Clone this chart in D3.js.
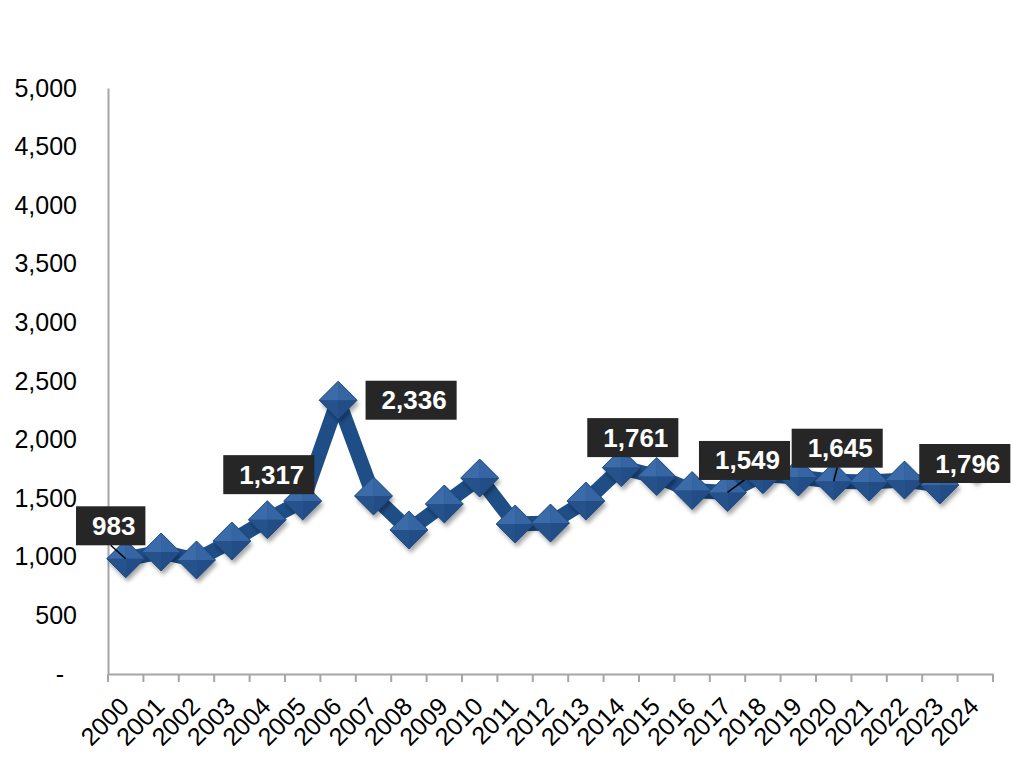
<!DOCTYPE html>
<html>
<head>
<meta charset="utf-8">
<script src="https://cdn.jsdelivr.net/npm/d3@7"></script>
<style>
  html, body { margin: 0; padding: 0; background: #ffffff; }
  svg { display: block; }
</style>
</head>
<body>
<div id="chart"></div>
<script>
// ---- data ----
const years = ["2000","2001","2002","2003","2004","2005","2006","2007","2008","2009","2010","2011","2012","2013","2014","2015","2016","2017","2018","2019","2020","2021","2022","2023","2024"];
const values = [983, 1041, 973, 1135, 1317, 1476, 2336, 1519, 1229, 1451, 1672, 1280, 1288, 1476, 1761, 1685, 1565, 1549, 1700, 1680, 1645, 1638, 1655, 1613, 1796];
const yTicks = [0, 500, 1000, 1500, 2000, 2500, 3000, 3500, 4000, 4500, 5000];
const labelYears = ["2000", "2004", "2006", "2014", "2017", "2020", "2024"];

// ---- label placement (style, not data) ----
const labelPlacement = {
  "2000": {dx: -15, dy: -33, leader: true},
  "2004": {dx: 1.5, dy: -45, leader: false},
  "2006": {dx: 73, dy: 0, leader: false},
  "2014": {dx: 11.5, dy: -30, leader: false},
  "2017": {dx: 17, dy: -32, leader: true},
  "2020": {dx: 3.5, dy: -33, leader: true},
  "2024": {dx: -10.5, dy: 0, leader: false}
};

const W = 1011, H = 784;
const margin = {left: 108, right: 18, top: 88, bottom: 110};
const x0 = margin.left, x1 = W - margin.right; // 108 .. 993
const yTop = margin.top, yBot = H - margin.bottom; // 88 .. 674

const svg = d3.select("#chart").append("svg")
  .attr("width", W).attr("height", H)
  .style("font-family", "'Liberation Sans', Arial, sans-serif");

svg.append("rect").attr("width", W).attr("height", H).attr("fill", "#ffffff");

const defs = svg.append("defs");
const f = defs.append("filter").attr("id", "shadow")
  .attr("x", "-50%").attr("y", "-50%").attr("width", "200%").attr("height", "200%");
f.append("feDropShadow").attr("dx", 2).attr("dy", 4).attr("stdDeviation", 2.2)
  .attr("flood-color", "#000").attr("flood-opacity", 0.35);

const x = d3.scaleBand().domain(years).range([x0, x1]).paddingInner(0).paddingOuter(0);
const y = d3.scaleLinear().domain([0, 5000]).range([yBot, yTop]);
const cx = d => x(d) + x.bandwidth() / 2;

// y axis
const fmt = d3.format(",");
const yAxis = d3.axisLeft(y).tickValues(yTicks).tickSize(0).tickPadding(31)
  .tickFormat(d => d === 0 ? "-" : fmt(d));
const gy = svg.append("g").attr("transform", `translate(${x0},0)`).call(yAxis);
gy.select(".domain").attr("stroke", "#a6a6a6").attr("stroke-width", 2);
gy.selectAll("text").attr("font-size", 25).attr("fill", "#000")
  .attr("font-family", "'Liberation Sans', Arial, sans-serif");
gy.selectAll(".tick").filter(d => d === 0).select("text").attr("dx", -13);

// x axis
const gx = svg.append("g").attr("transform", `translate(0,${yBot})`)
  .call(d3.axisBottom(x).tickSize(0).tickFormat(""));
gx.select(".domain").attr("stroke", "#a6a6a6").attr("stroke-width", 2);
gx.selectAll(".tick").remove();
// boundary tick marks
const boundaries = years.map(d => x(d)).concat([x1]);
gx.selectAll("line.bt").data(boundaries).enter().append("line")
  .attr("class", "bt")
  .attr("x1", d => d).attr("x2", d => d)
  .attr("y1", 0).attr("y2", 8)
  .attr("stroke", "#a6a6a6").attr("stroke-width", 2);

// x labels
svg.append("g").selectAll("text").data(years).enter().append("text")
  .attr("transform", d => `translate(${cx(d) + 5},${yBot + 34}) rotate(-45)`)
  .attr("text-anchor", "end")
  .attr("font-size", 25)
  .attr("fill", "#000")
  .text(d => d);

// line
const pts = years.map((yr, i) => ({yr, v: values[i]}));
const line = d3.line().x(d => cx(d.yr)).y(d => y(d.v));
svg.append("path").datum(pts)
  .attr("d", line)
  .attr("fill", "none")
  .attr("stroke", "#1f4e87")
  .attr("stroke-width", 15)
  .attr("stroke-linejoin", "round");

// markers (beveled diamonds)
const r = 19;
const mk = svg.append("g").selectAll("g").data(pts).enter().append("g")
  .attr("transform", d => `translate(${cx(d.yr)},${y(d.v)})`);
mk.append("path").attr("d", `M0,${-r}L${r},0L0,${r}L${-r},0Z`)
  .attr("fill", "#2a5791").attr("filter", "url(#shadow)");
const facets = [
  {p: `M0,0L${-r},0L0,${-r}Z`, c: "#3b6ba8"},
  {p: `M0,0L0,${-r}L${r},0Z`, c: "#3565a2"},
  {p: `M0,0L${r},0L0,${r}Z`, c: "#224d86"},
  {p: `M0,0L0,${r}L${-r},0Z`, c: "#26528b"}
];
facets.forEach(fc => {
  mk.append("path").attr("d", fc.p).attr("fill", fc.c);
});
mk.append("path").attr("d", `M0,${-r}L${r},0L0,${r}L${-r},0Z`)
  .attr("fill", "none").attr("stroke", "#1d477d").attr("stroke-width", 0.8);

// data labels
const lab = pts.filter(d => labelYears.includes(d.yr));
const lg = svg.append("g");
lab.forEach(d => {
  const pl = labelPlacement[d.yr];
  const px = cx(d.yr), py = y(d.v);
  const bx = px + pl.dx, by = py + pl.dy;
  const t = lg.append("text")
    .attr("font-size", 26).attr("font-weight", "bold")
    .attr("fill", "#ffffff")
    .text(fmt(d.v));
  const tw = t.node().getComputedTextLength();
  const bw = tw + 26, bh = 39;
  const left = bx - bw / 2, top = by - bh / 2;
  if (pl.leader) {
    lg.insert("line", "text")
      .attr("x1", px).attr("y1", py)
      .attr("x2", bx).attr("y2", top + bh)
      .attr("stroke", "#000").attr("stroke-width", 1.5);
  }
  lg.insert("rect", "text")
    .attr("x", left).attr("y", top).attr("width", bw).attr("height", bh)
    .attr("fill", "#262626");
  t.attr("x", left + 16).attr("y", by + 9);
  lg.node().appendChild(t.node());
});
</script>
</body>
</html>
